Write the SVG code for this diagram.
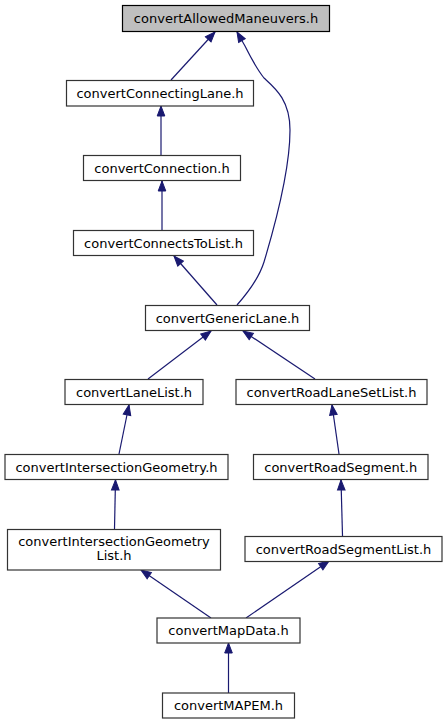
<svg xmlns="http://www.w3.org/2000/svg" width="447" height="724" viewBox="0 0 447 724">
<defs>
<style>
.n rect{fill:#fff;stroke:#333;stroke-width:1.2}
.n.root rect{fill:#bfbfbf;stroke:#000}
.n text{font-family:"DejaVu Sans",sans-serif;font-size:13px;fill:#000;text-anchor:middle}
.e path,.e line{fill:none;stroke:#191970;stroke-width:1.2;marker-end:url(#ah)}
</style>
<marker id="ah" markerUnits="userSpaceOnUse" markerWidth="14" markerHeight="12" refX="11" refY="5" orient="auto" viewBox="0 0 14 10">
<path d="M1,1.2 L11,5 L1,8.8 z" fill="#191970" stroke="#191970" stroke-width="1"/>
</marker>
</defs>
<rect width="447" height="724" fill="#fff"/>
<g id="edges" class="e">
<line x1="171" y1="80" x2="215" y2="32"/>
<path d="M237,305 C252,288 260,275 264,262 C276,222 290,170 290,130 C290,100 275,88 264,78 C256,68 250,56 245,46 L237,32"/>
<line x1="161" y1="155" x2="161" y2="106"/>
<line x1="162" y1="230" x2="162" y2="181"/>
<line x1="217" y1="305" x2="174" y2="256"/>
<line x1="148" y1="379" x2="211" y2="331"/>
<line x1="315" y1="379" x2="243" y2="331"/>
<line x1="119" y1="454" x2="129" y2="405"/>
<line x1="339" y1="454" x2="332" y2="405"/>
<line x1="114.5" y1="529" x2="115.5" y2="480"/>
<line x1="342.5" y1="536" x2="341" y2="480"/>
<line x1="211" y1="618" x2="141" y2="570"/>
<line x1="246" y1="618" x2="329" y2="561"/>
<line x1="228.5" y1="693" x2="228.5" y2="643"/>
</g>
<g id="n1" class="n root"><rect x="122.5" y="5.5" width="207" height="26"/><text x="226" y="22.5">convertAllowedManeuvers.h</text></g>
<g id="n2" class="n"><rect x="66.5" y="80.5" width="187" height="25.5"/><text x="160" y="97.5">convertConnectingLane.h</text></g>
<g id="n3" class="n"><rect x="83.5" y="155.5" width="157" height="25"/><text x="162" y="172.5">convertConnection.h</text></g>
<g id="n4" class="n"><rect x="73.5" y="230.5" width="180" height="25"/><text x="163.5" y="247.5">convertConnectsToList.h</text></g>
<g id="n5" class="n"><rect x="145.5" y="305.5" width="164" height="25"/><text x="227.5" y="322.5">convertGenericLane.h</text></g>
<g id="n6" class="n"><rect x="65" y="379.5" width="138" height="25"/><text x="134" y="396.5">convertLaneList.h</text></g>
<g id="n7" class="n"><rect x="236" y="379.5" width="191" height="25"/><text x="331.5" y="396.5">convertRoadLaneSetList.h</text></g>
<g id="n8" class="n"><rect x="5" y="454.5" width="223" height="25"/><text x="116.5" y="471.5">convertIntersectionGeometry.h</text></g>
<g id="n9" class="n"><rect x="253.5" y="454.5" width="174.5" height="25"/><text x="340.75" y="471.5">convertRoadSegment.h</text></g>
<g id="n10" class="n"><rect x="7.5" y="529.5" width="213" height="40.5"/><text x="114" y="545.5">convertIntersectionGeometry</text><text x="114" y="559.5">List.h</text></g>
<g id="n11" class="n"><rect x="245" y="536.5" width="197" height="25"/><text x="343.5" y="553.5">convertRoadSegmentList.h</text></g>
<g id="n12" class="n"><rect x="157" y="618" width="143" height="25"/><text x="228.5" y="635">convertMapData.h</text></g>
<g id="n13" class="n"><rect x="162.5" y="693" width="132" height="25"/><text x="228.5" y="710">convertMAPEM.h</text></g>
</svg>
